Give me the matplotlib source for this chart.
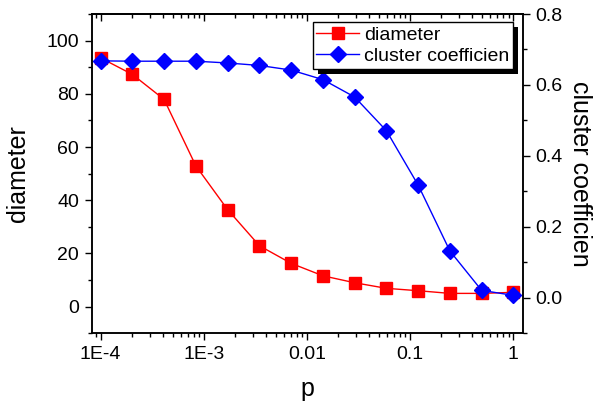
import matplotlib.pyplot as plt
from matplotlib.ticker import FixedLocator, MultipleLocator, NullFormatter
from matplotlib.patches import Rectangle

plt.rcParams['font.family'] = ['Liberation Sans', 'DejaVu Sans']

# data
p = [1e-4, 2.03e-4, 4.12e-4, 8.38e-4, 1.70e-3, 3.46e-3, 7.02e-3,
     0.0143, 0.0290, 0.0589, 0.120, 0.243, 0.493, 1.0]
diameter = [93.5, 87.3, 77.9, 52.9, 36.5, 22.9, 16.3, 11.6, 9.0, 6.9, 6.0, 5.0, 5.0, 5.4]
cluster = [0.668, 0.667, 0.667, 0.667, 0.662, 0.655, 0.642, 0.615, 0.566,
           0.471, 0.317, 0.132, 0.021, 0.007]
xticks = [1e-4, 1e-3, 1e-2, 1e-1, 1]
xticklabels = ['1E-4', '1E-3', '0.01', '0.1', '1']

fig = plt.figure(figsize=(5.99, 4.04), dpi=100)
ax = fig.add_axes([0.153, 0.175, 0.7196, 0.7903])
ax2 = ax.twinx()

ax.plot(p, diameter, color='red', marker='s', markersize=9, lw=1.0, label='diameter')
ax2.plot(p, cluster, color='blue', marker='D', markersize=8, lw=1.0, label='cluster coefficien')

ax.set_xscale('log')
ax.set_xlim(8.18e-5, 1.233)
ax.set_ylim(-10, 110)
ax2.set_ylim(-0.1, 0.8)

minor = [m * 10.0 ** e for e in range(-5, 1) for m in range(2, 10)]
ax.xaxis.set_major_locator(FixedLocator(xticks))
ax.set_xticklabels(xticklabels)
ax.xaxis.set_minor_locator(FixedLocator(minor))
ax.xaxis.set_minor_formatter(NullFormatter())
ax.yaxis.set_major_locator(MultipleLocator(20))
ax.yaxis.set_minor_locator(MultipleLocator(10))
ax2.yaxis.set_major_locator(FixedLocator([0, 0.2, 0.4, 0.6, 0.8]))
ax2.set_yticklabels(['0.0', '0.2', '0.4', '0.6', '0.8'])
ax2.yaxis.set_minor_locator(MultipleLocator(0.1))

for a in (ax, ax2):
    a.tick_params(which='major', length=5, width=1, labelsize=14, pad=4)
    a.tick_params(which='minor', length=3, width=1)
    for s in a.spines.values():
        s.set_linewidth(1.1)
ax.tick_params(axis='y', right=False)

# top ticks point inward
top = ax.secondary_xaxis('top')
top.set_xticks(xticks)
top.xaxis.set_minor_locator(FixedLocator(minor))
top.tick_params(which='both', direction='in', labeltop=False)
top.tick_params(which='major', length=5, width=1)
top.tick_params(which='minor', length=3, width=1)
top.spines['top'].set_linewidth(1.1)

ax.set_xlabel('p', fontsize=18, labelpad=10)
ax.set_ylabel('diameter', fontsize=18, labelpad=12)
ax2.set_ylabel('cluster coefficien', fontsize=18, labelpad=4, rotation=270, va='bottom')

h1, l1 = ax.get_legend_handles_labels()
h2, l2 = ax2.get_legend_handles_labels()
leg = ax2.legend(h1 + h2, l1 + l2, loc='upper right', bbox_to_anchor=(0.978, 0.975),
                 fontsize=14, frameon=True, fancybox=False, edgecolor='black',
                 framealpha=1, handlelength=2.2, handletextpad=0.25,
                 borderpad=0.2, labelspacing=0.2, borderaxespad=0)
leg.get_frame().set_linewidth(1.0)

# solid black drop shadow behind the legend
fig.canvas.draw()
bb = leg.get_window_extent()
shadow = Rectangle((bb.x0 + 5, bb.y0 - 5), bb.width, bb.height, transform=None,
                   facecolor='black', edgecolor='none', zorder=4.9)
ax2.add_artist(shadow)

fig.savefig('out.png', dpi=100)
